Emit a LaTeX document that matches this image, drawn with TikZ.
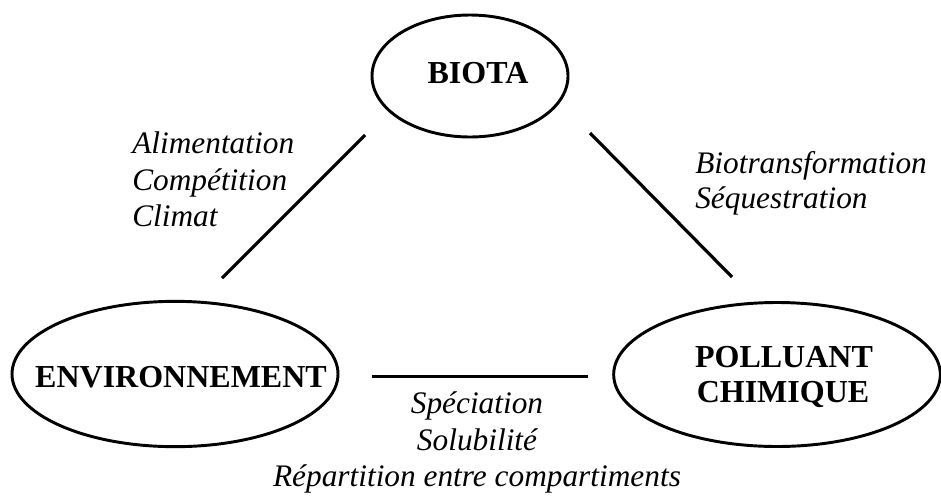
\documentclass[tikz,border=0pt]{standalone}
\usepackage{fontspec}
\setmainfont{Liberation Serif}
\usetikzlibrary{shapes.geometric}
\begin{document}
\begin{tikzpicture}[x=0.75pt,y=-0.75pt,
  oval/.style={draw,ellipse,line width=2.2pt,inner sep=0pt},
  link/.style={line width=2.4pt},
  bold/.style={font=\fontsize{24}{28}\selectfont\bfseries,inner sep=0pt},
  lbl/.style={font=\fontsize{23.5}{28}\selectfont\itshape,inner sep=0pt}]
\useasboundingbox (0,0) rectangle (941,497);
% ellipses
\node[oval,minimum width=147pt,minimum height=91.5pt] (biota) at (470,76) {};
\node[oval,minimum width=244.5pt,minimum height=109pt] (env) at (175,374) {};
\node[oval,minimum width=245pt,minimum height=108pt] (poll) at (777,374.5) {};
% titles
\node[bold,anchor=base] (tbiota) at (478,83) {BIOTA};
\node[bold,anchor=base] (tenv) at (181,387) {ENVIRONNEMENT};
\node[bold,anchor=base] (tpoll1) at (784,367) {POLLUANT};
\node[bold,anchor=base] (tpoll2) at (783,402) {CHIMIQUE};
% connector ends
\coordinate (la) at (365,135);
\coordinate (lb) at (222,278);
\coordinate (ra) at (590,133);
\coordinate (rb) at (732,277);
\coordinate (ha) at (372,376.5);
\coordinate (hb) at (588,376.5);
\draw[link] (la) -- (lb);
\draw[link] (ra) -- (rb);
\draw[link] (ha) -- (hb);
% labels
\node[lbl,anchor=base west] (a1) at (132,153) {Alimentation};
\node[lbl,anchor=base west] (a2) at (132,190) {Compétition};
\node[lbl,anchor=base west] (a3) at (132,226) {Climat};
\node[lbl,anchor=base west] (b1) at (695,173) {Biotransformation};
\node[lbl,anchor=base west] (b2) at (695,208) {Séquestration};
\node[lbl,anchor=base] (c1) at (477,413) {Spéciation};
\node[lbl,anchor=base] (c2) at (477,450) {Solubilité};
\node[lbl,anchor=base] (c3) at (477,486) {Répartition entre compartiments};
\end{tikzpicture}
\end{document}
